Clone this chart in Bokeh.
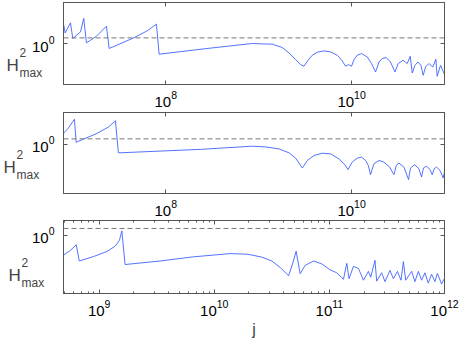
import numpy as np
from bokeh.plotting import figure
from bokeh.layouts import column
from bokeh.models import Range1d, FixedTicker, LogAxis, Span, Label, CustomJSTickFormatter
from bokeh.embed import file_html
from bokeh.resources import INLINE

# ---- data (log10 of j and log10 of H^2_max) ----
p1_log_j = [6.903, 6.918, 6.975, 7.000, 7.083, 7.118, 7.147, 7.255, 7.362, 7.391,
            7.656, 7.800, 7.900, 7.929, 8.445, 8.932, 9.040, 9.147, 9.254, 9.327,
            9.398, 9.452, 9.488, 9.524, 9.577, 9.631, 9.703, 9.774, 9.846, 9.893,
            9.935, 9.965, 10.000, 10.026, 10.061, 10.108, 10.169, 10.215, 10.258, 10.295,
            10.330, 10.373, 10.419, 10.467, 10.502, 10.553, 10.599, 10.631, 10.653, 10.682,
            10.714, 10.746, 10.771, 10.796, 10.832, 10.875, 10.907, 10.921, 10.957, 11.004]
p1_log_h2 = [0.327, 0.189, 0.368, 0.089, 0.207, 0.447, 0.011, 0.130, 0.309, -0.089,
             0.100, 0.225, 0.345, -0.191, -0.089, 0.000, -0.007, -0.0125, -0.071, -0.168,
             -0.286, -0.375, -0.405, -0.316, -0.209, -0.155, -0.132, -0.150, -0.209, -0.293,
             -0.405, -0.375, -0.405, -0.286, -0.209, -0.179, -0.239, -0.357, -0.507, -0.329,
             -0.268, -0.250, -0.329, -0.507, -0.357, -0.298, -0.357, -0.227, -0.525, -0.388,
             -0.329, -0.388, -0.566, -0.418, -0.357, -0.418, -0.280, -0.584, -0.388, -0.566]

p2_log_j = [6.903, 6.953, 7.018, 7.036, 7.250, 7.384, 7.459, 7.491, 8.373, 8.932,
            9.075, 9.219, 9.327, 9.398, 9.470, 9.524, 9.595, 9.685, 9.774, 9.864,
            9.929, 9.961, 10.007, 10.061, 10.108, 10.151, 10.180, 10.204, 10.241, 10.295,
            10.348, 10.409, 10.456, 10.481, 10.510, 10.563, 10.613, 10.634, 10.678, 10.725,
            10.753, 10.774, 10.803, 10.843, 10.868, 10.889, 10.914, 10.951, 10.986, 11.004]
p2_log_h2 = [0.205, 0.295, 0.455, 0.039, 0.190, 0.313, 0.425, -0.152, -0.089, -0.032,
             -0.045, -0.080, -0.152, -0.247, -0.425, -0.289, -0.200, -0.158, -0.170, -0.259,
             -0.366, -0.455, -0.318, -0.247, -0.229, -0.289, -0.378, -0.545, -0.348, -0.289,
             -0.319, -0.408, -0.545, -0.378, -0.336, -0.408, -0.634, -0.426, -0.366, -0.438,
             -0.586, -0.426, -0.390, -0.449, -0.545, -0.438, -0.408, -0.467, -0.604, -0.467]

p3_log_j = [8.690, 8.748, 8.801, 8.827, 8.951, 9.067, 9.139, 9.176, 9.197, 9.225,
            9.529, 9.818, 10.136, 10.281, 10.327, 10.414, 10.500, 10.573, 10.645, 10.680,
            10.711, 10.746, 10.789, 10.862, 10.934, 11.006, 11.064, 11.122, 11.151, 11.171,
            11.209, 11.252, 11.296, 11.339, 11.359, 11.396, 11.411, 11.454, 11.483, 11.526,
            11.556, 11.591, 11.622, 11.643, 11.663, 11.715, 11.743, 11.773, 11.801, 11.830,
            11.859, 11.888, 11.917, 11.938, 11.975, 11.998]
p3_log_h2 = [-0.290, -0.225, -0.139, -0.377, -0.312, -0.238, -0.160, -0.074, 0.065, -0.429,
             -0.377, -0.316, -0.269, -0.277, -0.290, -0.321, -0.377, -0.472, -0.594, -0.420,
             -0.234, -0.563, -0.442, -0.377, -0.420, -0.507, -0.550, -0.646, -0.412, -0.637,
             -0.455, -0.485, -0.659, -0.529, -0.615, -0.368, -0.672, -0.550, -0.680, -0.516,
             -0.637, -0.529, -0.659, -0.386, -0.659, -0.529, -0.680, -0.529, -0.659, -0.550,
             -0.702, -0.572, -0.680, -0.559, -0.715, -0.637]

threshold_log = 0.1            # dashed reference level (log10)

x_ticks_top = [1e8, 1e10]
x_ticks_bottom = [1e9, 1e10, 1e11, 1e12]
y_ticks = [1.0]
y_label = ("H", "2", "max")

FONT = "Liberation Sans"
AXC = "#555555"
LINEC = "#4063ff"


def style_axis(ax, hidden=False):
    ax.axis_line_color = AXC
    ax.major_tick_line_color = AXC
    ax.minor_tick_line_color = AXC
    ax.major_tick_in = 4
    ax.major_tick_out = 0
    ax.minor_tick_in = 2
    ax.minor_tick_out = 0
    ax.major_label_text_font = FONT
    ax.major_label_text_color = "black"
    ax.major_label_text_font_size = "15px"
    if hidden:
        ax.formatter = CustomJSTickFormatter(code="return ''")
        ax.major_label_standoff = 0


def panel(log_j, log_h2, xr, yr, xt, xminor, height, top, bottom, lab_x, lab_y):
    p = figure(width=463, height=height, x_axis_type="log", y_axis_type="log",
               x_range=Range1d(10 ** xr[0], 10 ** xr[1]),
               y_range=Range1d(10 ** yr[0], 10 ** yr[1]),
               output_backend="svg", toolbar_location=None,
               min_border_left=63, min_border_right=18,
               min_border_top=top, min_border_bottom=bottom)
    p.grid.visible = False
    p.outline_line_color = AXC
    p.background_fill_color = "white"

    p.xaxis.ticker = FixedTicker(ticks=xt, minor_ticks=xminor)
    p.yaxis.ticker = FixedTicker(ticks=y_ticks, minor_ticks=[])
    for ax in p.xaxis + p.yaxis:
        style_axis(ax)
    p.yaxis.major_label_standoff = 9
    p.xaxis.major_label_standoff = 6

    ax_top = LogAxis(ticker=FixedTicker(ticks=xt, minor_ticks=xminor))
    style_axis(ax_top, hidden=True)
    p.add_layout(ax_top, "above")
    ax_right = LogAxis(ticker=FixedTicker(ticks=y_ticks, minor_ticks=[]))
    style_axis(ax_right, hidden=True)
    p.add_layout(ax_right, "right")

    jv = [10 ** v for v in log_j]
    hv = [10 ** v for v in log_h2]
    p.add_layout(Span(location=10 ** threshold_log, dimension="width",
                      line_color="#777777", line_dash="5 3", line_width=1))
    p.line(jv, hv, line_color=LINEC, line_width=0.9)

    # y-axis title H^2_max, drawn in canvas units from the side panels
    p.add_layout(Label(x=lab_x, y=lab_y, x_units="canvas", y_units="canvas", text=y_label[0],
                       text_font=FONT, text_font_size="17px", text_baseline="alphabetic"), "right")
    p.add_layout(Label(x=lab_x + 13, y=lab_y - 13, x_units="canvas", y_units="canvas", text=y_label[1],
                       text_font=FONT, text_font_size="12px", text_baseline="alphabetic"), "right")
    p.add_layout(Label(x=lab_x + 13, y=lab_y + 7.5, x_units="canvas", y_units="canvas", text=y_label[2],
                       text_font=FONT, text_font_size="12px", text_baseline="alphabetic"), "left")
    return p


minor3 = [m * 10.0 ** k for k in range(8, 12) for m in range(2, 10)]

p1 = panel(p1_log_j, p1_log_h2, (6.9, 11.0), (-0.73, 0.73), x_ticks_top, [], 110, 2, 26, 6, 65)
p2 = panel(p2_log_j, p2_log_h2, (6.9, 11.0), (-0.884, 0.575), x_ticks_top, [], 108, 2, 24, 3, 56.7)
p3 = panel(p3_log_j, p3_log_h2, (8.69, 12.0), (-0.854, 0.217), x_ticks_bottom, minor3, 122, 2, 38, 8, 57)
p3.below[0].axis_label = "j"
p3.below[0].axis_label_text_font = FONT
p3.below[0].axis_label_text_font_size = "16px"
p3.below[0].axis_label_text_font_style = "normal"
p3.below[0].axis_label_standoff = 2

layout = column(p1, p2, p3, spacing=0)
open("out.html", "w").write(file_html(layout, INLINE))
